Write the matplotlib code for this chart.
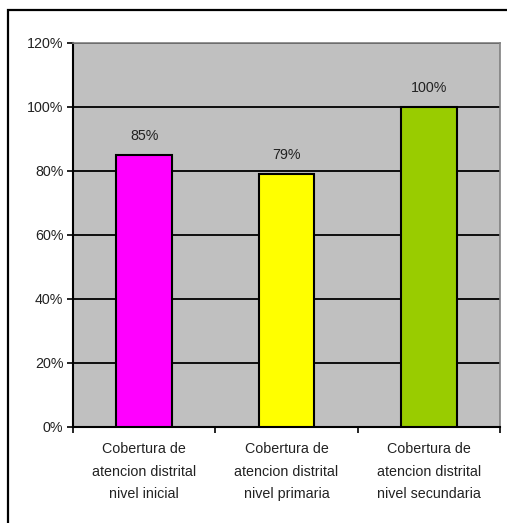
import matplotlib
matplotlib.use("Agg")
import matplotlib.pyplot as plt
from matplotlib.patches import Rectangle

categories = ["Cobertura de\natencion distrital\nnivel inicial",
              "Cobertura de\natencion distrital\nnivel primaria",
              "Cobertura de\natencion distrital\nnivel secundaria"]
values = [85, 79, 100]
labels = ["85%", "79%", "100%"]
colors = ["#FF00FF", "#FFFF00", "#99CC00"]
yticks = [0, 20, 40, 60, 80, 100, 120]

plt.rcParams['font.family'] = ['Liberation Sans', 'DejaVu Sans']

W, H = 507, 523
fig = plt.figure(figsize=(W/100, H/100), dpi=100)
fig.patch.set_facecolor("white")

# outer frame
fig.patches.append(Rectangle((8/W, -0.1), 1.2, (H-10)/H + 0.1, transform=fig.transFigure,
                             fill=False, edgecolor="black", linewidth=1.6, zorder=0))

ax = fig.add_axes([73/W, (H-427)/H, (500-73)/W, (427-43)/H])
ax.set_facecolor("#C0C0C0")
x = list(range(len(categories)))
ax.bar(x, values, width=0.39, color=colors, edgecolor="black", linewidth=1.5, zorder=3)
for xi, v, lab in zip(x, values, labels):
    ax.text(xi, v + 6.0, lab, ha="center", va="center", fontsize=10.3, color="#222222", zorder=4)

ax.set_xlim(-0.5, 2.5)
ax.set_ylim(0, 120)
ax.set_yticks(yticks)
ax.set_yticklabels([f"{t}%" for t in yticks], fontsize=10.3, color="#222222")
ax.yaxis.grid(True, color="black", linewidth=1.3, zorder=1)
ax.set_axisbelow(True)
ax.set_xticks([-0.5, 0.5, 1.5, 2.5], minor=False)
ax.set_xticklabels([])
ax.set_xticks(x, minor=True)
ax.set_xticklabels(categories, minor=True, fontsize=10.3, linespacing=1.76, color="#222222")
ax.tick_params(axis="x", which="minor", length=0, pad=11)
ax.tick_params(axis="x", which="major", length=4, width=1.2, direction="out")
ax.tick_params(axis="y", length=4, width=1.2, direction="out", pad=3)
for s in ["left", "bottom"]:
    ax.spines[s].set_color("black")
    ax.spines[s].set_linewidth(1.5)
for s in ["top", "right"]:
    ax.spines[s].set_color("#808080")
    ax.spines[s].set_linewidth(1.2)

fig.savefig("out.png", dpi=100)
